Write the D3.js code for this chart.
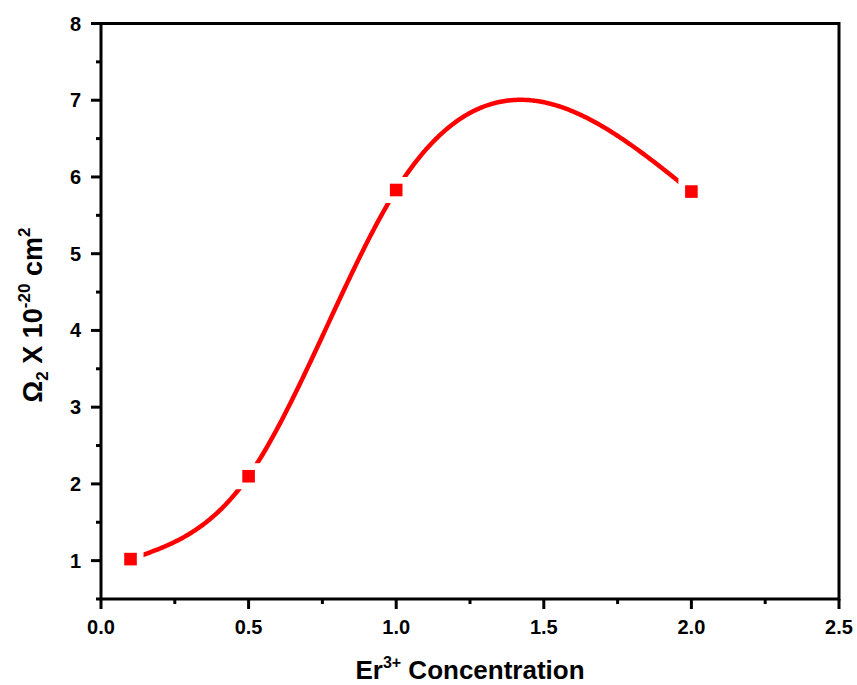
<!DOCTYPE html>
<html>
<head>
<meta charset="utf-8">
<script src="https://cdn.jsdelivr.net/npm/d3@7"></script>
<style>
  html, body { margin: 0; padding: 0; background: #fff; }
  svg { display: block; }
  text { font-family: "Liberation Sans", Arial, sans-serif; font-weight: bold; fill: #000; }
</style>
</head>
<body>
<svg id="chart" width="857" height="685"></svg>
<script>
// Er3+ concentration (mol%) and Judd-Ofelt parameter Omega_2 (x 10^-20 cm^2)
const concentration = [0.1, 0.5, 1.0, 2.0];
const omega2 = [1.02, 2.10, 5.83, 5.81];

const xTicks = [0.0, 0.5, 1.0, 1.5, 2.0, 2.5];
const xMinorTicks = [0.25, 0.75, 1.25, 1.75, 2.25];
const yTicks = [1, 2, 3, 4, 5, 6, 7, 8];
const yMinorTicks = [0.5, 1.5, 2.5, 3.5, 4.5, 5.5, 6.5, 7.5];

const svg = d3.select("#chart");
const plotLeft = 101, plotRight = 839, plotTop = 23.5, plotBottom = 599;

const x = d3.scaleLinear().domain([0, 2.5]).range([plotLeft, plotRight]);
const y = d3.scaleLinear().domain([0.5, 8]).range([plotBottom, plotTop]);

// Natural cubic spline through the measured points (in x)
function naturalSpline(xs, ys) {
  const n = xs.length;
  const h = [];
  for (let i = 0; i < n - 1; i++) h.push(xs[i + 1] - xs[i]);
  // Solve tridiagonal system for second derivatives M
  const a = [], b = [], c = [], d = [];
  for (let i = 1; i < n - 1; i++) {
    a.push(h[i - 1]);
    b.push(2 * (h[i - 1] + h[i]));
    c.push(h[i]);
    d.push(6 * ((ys[i + 1] - ys[i]) / h[i] - (ys[i] - ys[i - 1]) / h[i - 1]));
  }
  const m = d.length;
  const cp = [], dp = [];
  for (let i = 0; i < m; i++) {
    const denom = b[i] - (i > 0 ? a[i] * cp[i - 1] : 0);
    cp.push(c[i] / denom);
    dp.push((d[i] - (i > 0 ? a[i] * dp[i - 1] : 0)) / denom);
  }
  const inner = new Array(m);
  for (let i = m - 1; i >= 0; i--) inner[i] = dp[i] - (i < m - 1 ? cp[i] * inner[i + 1] : 0);
  const M = [0, ...inner, 0];
  return function (t) {
    let i = 0;
    while (i < n - 2 && t > xs[i + 1]) i++;
    const hi = h[i], A = xs[i + 1] - t, B = t - xs[i];
    return M[i] * A * A * A / (6 * hi) + M[i + 1] * B * B * B / (6 * hi)
      + (ys[i] / hi - M[i] * hi / 6) * A + (ys[i + 1] / hi - M[i + 1] * hi / 6) * B;
  };
}

const spline = naturalSpline(concentration, omega2);
const x0 = concentration[0], x1 = concentration[concentration.length - 1];
const curvePts = d3.range(0, 401).map(k => {
  const t = x0 + (x1 - x0) * k / 400;
  return [t, spline(t)];
});

const axisColor = "#000";
const axisW = 3;

// Fitted curve
svg.append("path")
  .datum(curvePts)
  .attr("fill", "none")
  .attr("stroke", "#ff0000")
  .attr("stroke-width", 4.5)
  .attr("d", d3.line().x(d => x(d[0])).y(d => y(d[1])));

// Clear a small gap around each marker, then draw the markers
const pts = concentration.map((c, i) => [c, omega2[i]]);
svg.selectAll("rect.gap").data(pts).enter().append("rect")
  .attr("class", "gap")
  .attr("x", d => x(d[0]) - 13).attr("y", d => y(d[1]) - 13)
  .attr("width", 26).attr("height", 26)
  .attr("fill", "#fff");
svg.selectAll("rect.pt").data(pts).enter().append("rect")
  .attr("class", "pt")
  .attr("x", d => x(d[0]) - 6.3).attr("y", d => y(d[1]) - 6.3)
  .attr("width", 12.6).attr("height", 12.6)
  .attr("fill", "#ff0000");

// Box
svg.append("rect")
  .attr("x", plotLeft).attr("y", plotTop)
  .attr("width", plotRight - plotLeft).attr("height", plotBottom - plotTop)
  .attr("fill", "none").attr("stroke", axisColor).attr("stroke-width", axisW);

// Bottom axis
const xAxis = svg.append("g");
xAxis.selectAll("line.major").data(xTicks).enter().append("line")
  .attr("class", "major")
  .attr("x1", d => x(d)).attr("x2", d => x(d))
  .attr("y1", plotBottom).attr("y2", plotBottom + 10)
  .attr("stroke", axisColor).attr("stroke-width", axisW);
xAxis.selectAll("line.minor").data(xMinorTicks).enter().append("line")
  .attr("class", "minor")
  .attr("x1", d => x(d)).attr("x2", d => x(d))
  .attr("y1", plotBottom).attr("y2", plotBottom + 5)
  .attr("stroke", axisColor).attr("stroke-width", axisW);
xAxis.selectAll("text").data(xTicks).enter().append("text")
  .attr("x", d => x(d)).attr("y", 634)
  .attr("text-anchor", "middle")
  .attr("font-size", 20)
  .text(d => d3.format(".1f")(d));

// Left axis
const yAxis = svg.append("g");
yAxis.selectAll("line.major").data(yTicks).enter().append("line")
  .attr("class", "major")
  .attr("x1", plotLeft - 10).attr("x2", plotLeft)
  .attr("y1", d => y(d)).attr("y2", d => y(d))
  .attr("stroke", axisColor).attr("stroke-width", axisW);
yAxis.selectAll("line.minor").data(yMinorTicks).enter().append("line")
  .attr("class", "minor")
  .attr("x1", plotLeft - 5).attr("x2", plotLeft)
  .attr("y1", d => y(d)).attr("y2", d => y(d))
  .attr("stroke", axisColor).attr("stroke-width", axisW);
yAxis.selectAll("text").data(yTicks).enter().append("text")
  .attr("x", 81).attr("y", d => y(d) + 7)
  .attr("text-anchor", "end")
  .attr("font-size", 20)
  .text(d => d);

// X axis title
const xt = svg.append("text")
  .attr("x", 470).attr("y", 679)
  .attr("text-anchor", "middle")
  .attr("font-size", 26);
xt.append("tspan").text("Er");
xt.append("tspan").attr("font-size", 16).attr("dy", -11).text("3+");
xt.append("tspan").attr("dy", 11).text(" Concentration");

// Y axis title
const yt = svg.append("text")
  .attr("transform", "translate(42,315) rotate(-90)")
  .attr("text-anchor", "middle")
  .attr("font-size", 27);
yt.append("tspan").text("Ω");
yt.append("tspan").attr("font-size", 17).attr("dy", 6).text("2");
yt.append("tspan").attr("dy", -6).text(" X 10");
yt.append("tspan").attr("font-size", 17).attr("dy", -12).text("-20");
yt.append("tspan").attr("dy", 12).text(" cm");
yt.append("tspan").attr("font-size", 17).attr("dy", -12).text("2");
</script>
</body>
</html>
